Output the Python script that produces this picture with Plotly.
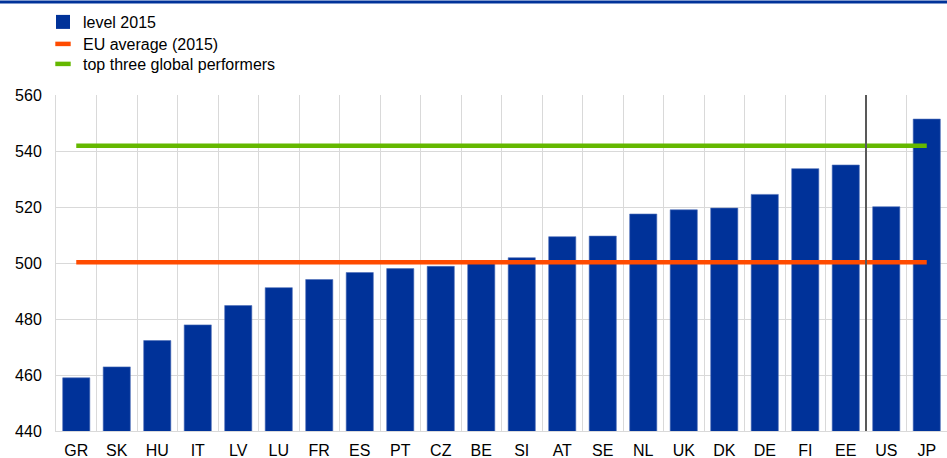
import plotly.graph_objects as go

countries = ["GR", "SK", "HU", "IT", "LV", "LU", "FR", "ES", "PT", "CZ", "BE",
             "SI", "AT", "SE", "NL", "UK", "DK", "DE", "FI", "EE", "US", "JP"]
level_2015 = [459.0, 462.9, 472.3, 477.9, 484.8, 491.2, 494.1, 496.6, 498.0, 498.8, 500.3,
              501.9, 509.4, 509.6, 517.5, 519.0, 519.6, 524.5, 533.7, 535.0, 520.1, 551.4]
eu_average = 500.3
top_three = 541.9
y_ticks = [440, 460, 480, 500, 520, 540, 560]

BLUE = "#003299"
ORANGE = "#ff4b00"
GREEN = "#65b800"
GRID = "#d9d9d9"
FONT = "Liberation Sans, Arial, sans-serif"

PLOT_H = 336
PLOT_W = 891


def py(pix):
    # pixel row (from top of figure) -> paper y
    return (431 - pix) / PLOT_H


fig = go.Figure()
fig.add_trace(go.Bar(x=countries, y=level_2015, name="level 2015",
                     marker=dict(color=BLUE, line=dict(color="#4d6fb8", width=0.6)),
                     width=0.67, showlegend=False))
fig.add_trace(go.Scatter(x=countries, y=[eu_average] * len(countries), mode="lines",
                         name="EU average (2015)", line=dict(color=ORANGE, width=4.5),
                         showlegend=False))
fig.add_trace(go.Scatter(x=countries, y=[top_three] * len(countries), mode="lines",
                         name="top three global performers", line=dict(color=GREEN, width=4.5),
                         showlegend=False))
# legend entries
fig.add_trace(go.Scatter(x=[None], y=[None], mode="markers", name="level 2015",
                         marker=dict(symbol="square", size=14, color=BLUE, line=dict(width=0)),
                         legend="legend"))
fig.add_trace(go.Scatter(x=[None], y=[None], mode="markers", name="EU average (2015)",
                         marker=dict(symbol="line-ew", size=11, line=dict(color=ORANGE, width=4.5)),
                         legend="legend2"))
fig.add_trace(go.Scatter(x=[None], y=[None], mode="markers", name="top three global performers",
                         marker=dict(symbol="line-ew", size=11, line=dict(color=GREEN, width=4.5)),
                         legend="legend3"))

# separator between euro area countries and the US/JP
fig.add_shape(type="line", xref="x", yref="paper", x0=19.5, x1=19.5, y0=0, y1=1,
              line=dict(color="#595959", width=2))
# top rule
fig.add_shape(type="line", xref="paper", yref="paper", x0=-56 / PLOT_W, x1=1,
              y0=py(2), y1=py(2), line=dict(color=BLUE, width=3))

leg_common = dict(x=-13 / PLOT_W, xanchor="left", yanchor="top",
                  bgcolor="rgba(0,0,0,0)", font=dict(size=16, family=FONT),
                  itemwidth=30, itemsizing="trace")

fig.update_layout(
    width=947, height=458,
    margin=dict(l=56, r=0, t=95, b=27),
    paper_bgcolor="white", plot_bgcolor="white",
    font=dict(family=FONT, size=16, color="#000000"),
    showlegend=True,
    legend=dict(y=py(5), **leg_common),
    legend2=dict(y=py(27), **leg_common),
    legend3=dict(y=py(47), **leg_common),
    bargap=0.33,
)
fig.update_xaxes(type="category", tickson="boundaries", showgrid=True, gridcolor=GRID,
                 gridwidth=1, ticks="", showline=True, linecolor=GRID, linewidth=1,
                 ticklabelstandoff=5,
                 tickfont=dict(size=16, family=FONT), range=[-0.5, 21.5])
fig.update_yaxes(range=[440, 560], tickvals=y_ticks, showgrid=True, gridcolor=GRID,
                 gridwidth=1, zeroline=False, showline=True, linecolor=GRID, linewidth=1,
                 ticks="", ticklabelstandoff=10, tickfont=dict(size=16, family=FONT))

fig.write_html("out.html", post_script="document.body.style.margin='0';",
               config={"displayModeBar": False})
